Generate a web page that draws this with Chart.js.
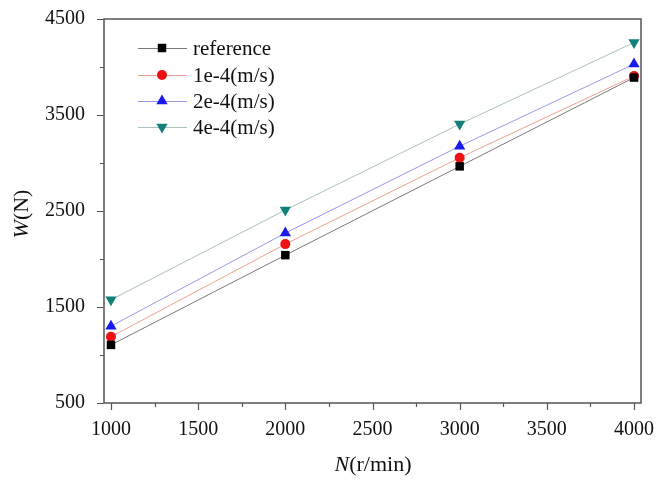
<!DOCTYPE html>
<html>
<head>
<meta charset="utf-8">
<script src="https://cdn.jsdelivr.net/npm/chart.js@4"></script>
<style>
  html, body { margin: 0; padding: 0; background: #fff; }
  #wrap { width: 661px; height: 480px; }
</style>
</head>
<body>
<div id="wrap"><canvas id="wchart" width="661" height="480"></canvas></div>
<script>
// data
var speeds = [1000, 2000, 3000, 4000];
var wRef = [1105, 2040, 2965, 3890];
var w1e4 = [1190, 2155, 3055, 3905];
var w2e4 = [1300, 2270, 3175, 4030];
var w4e4 = [1575, 2510, 3405, 4255];
var seriesNames = ['reference', '1e-4(m/s)', '2e-4(m/s)', '4e-4(m/s)'];
var xTicks = [1000, 1500, 2000, 2500, 3000, 3500, 4000];
var yTicks = [500, 1500, 2500, 3500, 4500];

var serif = '"Liberation Serif", "DejaVu Serif", serif';

function pts(vals) {
    var out = [];
    for (var i = 0; i < vals.length; i++) out.push({ x: speeds[i], y: vals[i] });
    return out;
}

function mkSet(label, vals, marker, line, style, rad, rot) {
    return {
        label: label,
        data: pts(vals),
        borderColor: line,
        borderWidth: 1,
        backgroundColor: marker,
        pointBackgroundColor: marker,
        pointBorderColor: marker,
        pointBorderWidth: 0,
        pointStyle: style,
        pointRadius: rad,
        pointRotation: rot || 0,
        tension: 0
    };
}

var datasets = [
    mkSet(seriesNames[0], wRef, '#000000', '#7a7a7a', 'rect', 6),
    mkSet(seriesNames[1], w1e4, '#ee1111', '#f0a090', 'circle', 5),
    mkSet(seriesNames[2], w2e4, '#1a1aee', '#9a9ae6', 'triangle', 6.5),
    mkSet(seriesNames[3], w4e4, '#12807a', '#a8c4bc', 'triangle', 6.5, 180)
];

// box frame, outward ticks, axis titles, legend
var decor = {
    id: 'decor',
    afterDraw: function (chart) {
        var ctx = chart.ctx;
        var a = chart.chartArea;
        var xs = chart.scales.x, ys = chart.scales.y;
        ctx.save();
        ctx.strokeStyle = '#555';
        ctx.lineWidth = 1.5;
        ctx.strokeRect(a.left, a.top, a.right - a.left, a.bottom - a.top);

        ctx.lineWidth = 1.2;
        ctx.beginPath();
        for (var v = 1000; v <= 4000; v += 250) {
            var px = Math.round(xs.getPixelForValue(v)) + 0.5;
            var len = (v % 500 === 0) ? 7 : 4;
            ctx.moveTo(px, a.bottom);
            ctx.lineTo(px, a.bottom + len);
        }
        for (var w = 500; w <= 4500; w += 500) {
            var py = Math.round(ys.getPixelForValue(w)) + 0.5;
            var l2 = ((w - 500) % 1000 === 0) ? 7 : 4;
            ctx.moveTo(a.left, py);
            ctx.lineTo(a.left - l2, py);
        }
        ctx.stroke();

        // x title
        ctx.fillStyle = '#111';
        ctx.textBaseline = 'middle';
        ctx.font = 'italic 22px ' + serif;
        var t1 = 'N', t2 = '(r/min)';
        var w1 = ctx.measureText(t1).width;
        ctx.font = '22px ' + serif;
        var w2 = ctx.measureText(t2).width;
        var sx = 373 - (w1 + w2) / 2;
        ctx.font = 'italic 22px ' + serif;
        ctx.textAlign = 'left';
        ctx.fillText(t1, sx, 465);
        ctx.font = '22px ' + serif;
        ctx.fillText(t2, sx + w1, 465);

        // y title
        ctx.save();
        ctx.translate(22, 214);
        ctx.rotate(-Math.PI / 2);
        ctx.font = 'italic 22px ' + serif;
        var y1 = 'W', y2 = '(N)';
        var yw1 = ctx.measureText(y1).width;
        ctx.font = '22px ' + serif;
        var yw2 = ctx.measureText(y2).width;
        var ys0 = -(yw1 + yw2) / 2;
        ctx.font = 'italic 22px ' + serif;
        ctx.fillText(y1, ys0, 0);
        ctx.font = '22px ' + serif;
        ctx.fillText(y2, ys0 + yw1, 0);
        ctx.restore();

        // legend
        var rows = [48, 75, 101, 127];
        ctx.font = '21px ' + serif;
        ctx.textAlign = 'left';
        chart.data.datasets.forEach(function (ds, i) {
            var ly = rows[i];
            ctx.strokeStyle = ds.borderColor;
            ctx.lineWidth = 1;
            ctx.beginPath();
            ctx.moveTo(138, ly + 0.5);
            ctx.lineTo(187, ly + 0.5);
            ctx.stroke();
            ctx.fillStyle = ds.pointBackgroundColor;
            ctx.strokeStyle = ds.pointBorderColor;
            Chart.helpers.drawPoint(ctx, {
                pointStyle: ds.pointStyle,
                rotation: ds.pointRotation,
                radius: ds.pointRadius,
                borderWidth: 0
            }, 162, ly);
            ctx.fillStyle = '#111';
            ctx.fillText(ds.label, 193, ly + 1);
        });
        ctx.restore();
    }
};

var chart = new Chart(document.getElementById('wchart').getContext('2d'), {
    type: 'line',
    data: { datasets: datasets },
    options: {
        responsive: false,
        animation: false,
        layout: { padding: { left: 0, top: 19, right: 20, bottom: 0 } },
        plugins: { legend: { display: false }, tooltip: { enabled: false } },
        scales: {
            x: {
                type: 'linear',
                min: 960,
                max: 4040,
                afterBuildTicks: function (s) { s.ticks = xTicks.map(function (v) { return { value: v }; }); },
                afterFit: function (s) { s.height = 77; s.paddingLeft = 0; s.paddingRight = 0; },
                grid: { display: false, drawTicks: false },
                border: { display: false },
                ticks: {
                    padding: 15,
                    maxRotation: 0,
                    autoSkip: false,
                    color: '#111',
                    font: { family: serif, size: 20 },
                    callback: function (v) { return String(v); }
                }
            },
            y: {
                type: 'linear',
                min: 500,
                max: 4500,
                afterBuildTicks: function (s) { s.ticks = yTicks.map(function (v) { return { value: v }; }); },
                afterFit: function (s) { s.width = 104; s.paddingTop = 0; s.paddingBottom = 0; },
                grid: { display: false, drawTicks: false },
                border: { display: false },
                ticks: {
                    padding: 19,
                    color: '#111',
                    font: { family: serif, size: 20 },
                    callback: function (v) { return String(v); }
                }
            }
        }
    },
    plugins: [decor]
});
</script>
</body>
</html>
